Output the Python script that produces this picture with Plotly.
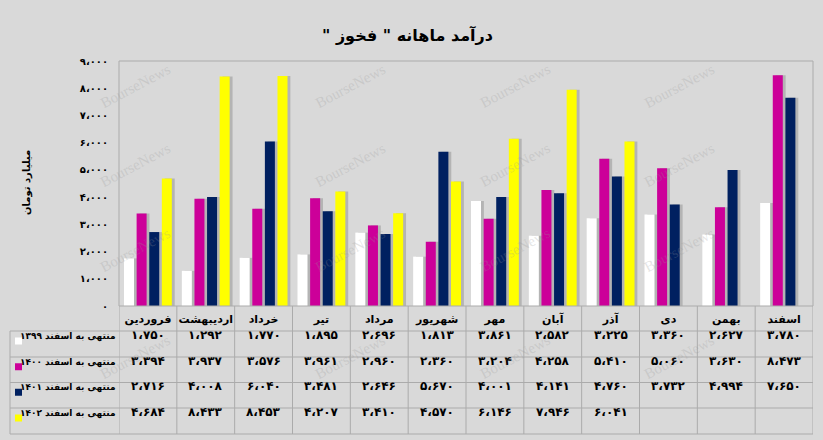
import plotly.graph_objects as go

# ---------------- data ----------------
months = ["فروردین", "اردیبهشت", "خرداد", "تیر", "مرداد", "شهریور",
          "مهر", "آبان", "آذر", "دی", "بهمن", "اسفند"]
series_names = ["منتهی به اسفند ۱۳۹۹", "منتهی به اسفند ۱۴۰۰",
                "منتهی به اسفند ۱۴۰۱", "منتهی به اسفند ۱۴۰۲"]
v1399 = [1750, 1292, 1770, 1895, 2696, 1813, 3861, 2582, 3225, 3360, 2627, 3780]
v1400 = [3394, 3937, 3576, 3961, 2960, 2360, 3204, 4258, 5410, 5060, 3630, 8473]
v1401 = [2716, 4008, 6040, 3481, 2646, 5670, 4001, 4141, 4760, 3732, 4994, 7650]
v1402 = [4684, 8433, 8453, 4207, 3410, 4570, 6146, 7946, 6041, None, None, None]
y_ticks = [0, 1000, 2000, 3000, 4000, 5000, 6000, 7000, 8000, 9000]
title_text = 'درآمد ماهانه " فخوز "'
y_title = "میلیارد تومان"

series = [v1399, v1400, v1401, v1402]
colors = ["#ffffff", "#cc0099", "#002060", "#ffff00"]

FA = str.maketrans("0123456789", "۰۱۲۳۴۵۶۷۸۹")
RLM = "\u200f"


def fa(v):
    if v is None:
        return ""
    return f"{v:,}".replace(",", "،").translate(FA)


# ---------------- geometry ----------------
W, H = 823, 440
L, R, T, B = 119, 813, 61, 306
PW, PH = R - L, B - T
BG = "#d9d9d9"
LINE = "#ababab"
FONT = "DejaVu Sans"


def py(p):  # pixel y -> paper y
    return (B - p) / PH


def px(p):  # pixel x -> paper x
    return (p - L) / PW


bar_w = 0.173
step = 0.218
first = -0.4135
shadow_dx = 0.05

fig = go.Figure()

# shadows
for k, vals in enumerate(series):
    fig.add_trace(go.Bar(
        x=months, y=vals, width=bar_w, offset=first + k * step + shadow_dx,
        marker=dict(color="rgba(0,0,0,0.17)", line=dict(width=0)),
        showlegend=False, hoverinfo="skip"))
# bars
for k, vals in enumerate(series):
    fig.add_trace(go.Bar(
        x=months, y=vals, width=bar_w, offset=first + k * step,
        name=series_names[k],
        marker=dict(color=colors[k], line=dict(width=0)),
        showlegend=False))

shapes = []
# plot border
shapes.append(dict(type="rect", xref="paper", yref="paper", x0=0, x1=1, y0=0, y1=1,
                   line=dict(color=LINE, width=1), layer="above"))

# table
row_lines = [306, 331, 357, 382.5, 408, 434]
for yy in row_lines[1:]:
    shapes.append(dict(type="line", xref="paper", yref="paper",
                       x0=px(10), x1=1, y0=py(yy), y1=py(yy),
                       line=dict(color=LINE, width=1)))
for i in range(13):
    shapes.append(dict(type="line", xref="x", yref="paper",
                       x0=i - 0.5, x1=i - 0.5, y0=py(306), y1=py(434),
                       line=dict(color=LINE, width=1)))
shapes.append(dict(type="line", xref="paper", yref="paper",
                   x0=px(10), x1=px(10), y0=py(331), y1=py(434),
                   line=dict(color=LINE, width=1)))

annotations = []
row_centers = [(row_lines[r + 1] + row_lines[r + 2]) / 2 for r in range(4)]
for k, vals in enumerate(series):
    yc = py(row_centers[k])
    for i, v in enumerate(vals):
        annotations.append(dict(xref="x", yref="paper", x=months[i], y=yc,
                                text="<b>" + fa(v) + "</b>", showarrow=False,
                                font=dict(family=FONT, size=12, color="#000000")))
    # legend text
    annotations.append(dict(xref="paper", yref="paper", x=px(117), y=yc,
                            xanchor="right", text="<b>" + series_names[k] + "</b>",
                            showarrow=False,
                            font=dict(family=FONT, size=9, color="#000000")))
    # legend key
    shapes.append(dict(type="rect", xref="paper", yref="paper",
                       x0=px(15), x1=px(22), y0=py(row_centers[k] - 6.5),
                       y1=py(row_centers[k] + 0.5),
                       fillcolor=colors[k], line=dict(width=0)))

# title & y title
annotations.append(dict(xref="paper", yref="paper", x=px(407), y=py(23),
                        text="<b>" + RLM + title_text + RLM + "</b>", showarrow=False,
                        font=dict(family=FONT, size=16, color="#000000")))
annotations.append(dict(xref="paper", yref="paper", x=px(19), y=py(183),
                        text="<b>" + y_title + "</b>", textangle=-90, showarrow=False,
                        font=dict(family=FONT, size=10, color="#000000")))

# watermarks
for wx in [95, 310, 515, 720]:
    for wy in [58, 165, 278, 385]:
        annotations.append(dict(xref="paper", yref="paper", x=px(wx), y=py(wy),
                                text="BourseNews", textangle=-28, showarrow=False,
                                font=dict(family="Liberation Serif", size=15,
                                          color="rgba(150,150,150,0.25)")))

fig.update_layout(
    width=W, height=H,
    margin=dict(l=L, r=W - R, t=T, b=H - B),
    paper_bgcolor=BG, plot_bgcolor=BG,
    barmode="overlay",
    shapes=shapes, annotations=annotations,
    xaxis=dict(type="category", categoryorder="array", categoryarray=months,
               range=[-0.5, 11.5], showgrid=False, zeroline=False, showline=False,
               tickvals=months, ticktext=["<b>" + m + "</b>" for m in months],
               ticks="", ticklabelstandoff=5,
               tickfont=dict(family=FONT, size=11, color="#000000")),
    yaxis=dict(range=[0, 9000], showgrid=False, zeroline=False, showline=False,
               tickvals=y_ticks, ticktext=["<b>" + fa(v) + "</b>" for v in y_ticks],
               ticks="", ticklabelstandoff=10,
               tickfont=dict(family=FONT, size=10, color="#000000")),
)

fig.write_html("out.html", config={"displayModeBar": False},
               post_script="document.body.style.margin='0';document.body.style.padding='0';")
